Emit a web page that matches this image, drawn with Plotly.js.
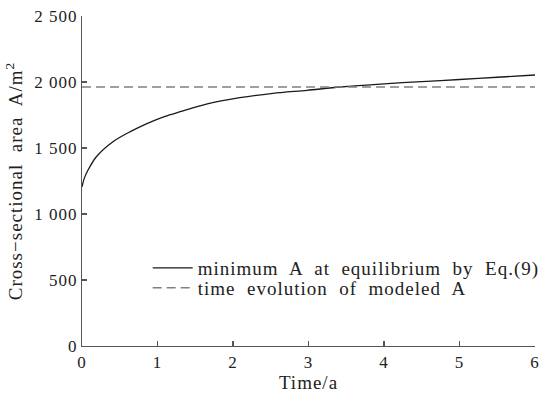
<!DOCTYPE html>
<html><head><meta charset="utf-8">
<script src="https://cdn.plot.ly/plotly-3.0.1.min.js"></script>
<style>html,body{margin:0;padding:0;background:#fff}#chart{width:541px;height:394px}
text{letter-spacing:1px}</style>
</head><body><div id="chart"></div>
<script>
const timeYears = [0, 0.03, 0.08, 0.19, 0.41, 0.64, 0.86, 1.1, 1.3, 1.66, 2.09, 2.53, 2.98, 3.42, 4, 4.5, 5, 5.5, 6];
const minAreaEq9 = [1205, 1270, 1333, 1434, 1548, 1624, 1685, 1740, 1775, 1835, 1881, 1914, 1937, 1962, 1986, 2003, 2019, 2036, 2053];
const modeledTime = [0, 6];
const modeledArea = [1962, 1962];
const yTickVals = [0, 500, 1000, 1500, 2000, 2500];
const yTickText = ['0', '500', '1 000', '1 500', '2 000', '2 500'];
const xTickVals = [0, 1, 2, 3, 4, 5, 6];
const xTickText = ['0', '1', '2', '3', '4', '5', '6'];

const font = '"Liberation Serif", "Times New Roman", serif';
const traces = [
  {x: timeYears, y: minAreaEq9, mode: 'lines', line: {color: '#1a1a1a', width: 1.3, shape: 'spline', smoothing: 0.8},
   name: 'minimum  A  at  equilibrium  by  Eq.(9)', legend: 'legend'},
  {x: modeledTime, y: modeledArea, mode: 'lines', line: {color: '#808080', width: 1.6, dash: '9px,5px'},
   name: 'time  evolution  of  modeled  A', legend: 'legend2'}
];
const axisCommon = {showgrid: false, zeroline: false, showline: true, linecolor: '#555', linewidth: 1.2,
  ticks: 'inside', ticklen: 5, tickcolor: '#555', tickwidth: 1.2, tickfont: {family: font, size: 17, color: '#222'}};
const legendCommon = {x: 0.145, xanchor: 'left', yanchor: 'middle', bgcolor: 'rgba(0,0,0,0)',
  font: {family: font, size: 19, color: '#222'}, itemwidth: 40};
const layout = {
  width: 541, height: 394,
  margin: {l: 82, r: 6, t: 16, b: 48, autoexpand: false},
  paper_bgcolor: '#fff', plot_bgcolor: '#fff',
  font: {family: font, color: '#222'},
  showlegend: true,
  legend: Object.assign({}, legendCommon, {y: 0.236}),
  legend2: Object.assign({}, legendCommon, {y: 0.176}),
  xaxis: Object.assign({}, axisCommon, {range: [0, 6], tickvals: xTickVals, ticktext: xTickText,
    title: {text: 'Time/a', font: {family: font, size: 19, color: '#222'}, standoff: 0}}),
  yaxis: Object.assign({}, axisCommon, {range: [0, 2500], tickvals: yTickVals, ticktext: yTickText,
    title: {text: 'Cross\u2212sectional  area  A/m<sup>2</sup>', font: {family: font, size: 19, color: '#222'}, standoff: 6}})
};
Plotly.newPlot('chart', traces, layout, {displayModeBar: false, staticPlot: true});
</script></body></html>
